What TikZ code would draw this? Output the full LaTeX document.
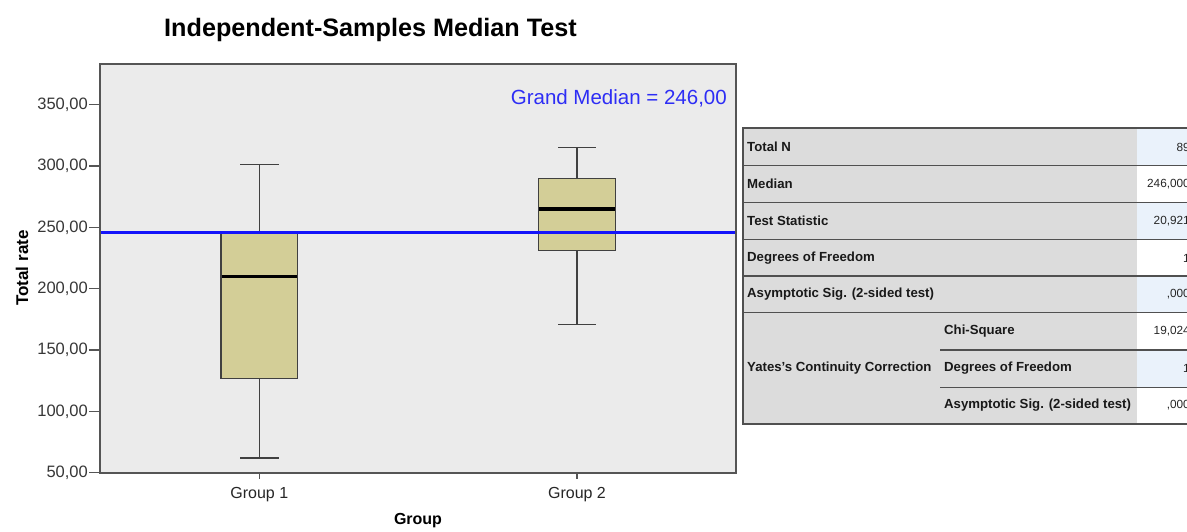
\documentclass[tikz,border=0pt]{standalone}
\usepackage{fontspec}
\setmainfont{Liberation Sans}
\definecolor{plotbg}{RGB}{235,235,235}
\definecolor{frame}{RGB}{85,85,85}
\definecolor{boxfill}{RGB}{211,206,151}
\definecolor{gmblue}{RGB}{20,20,250}
\definecolor{gmtext}{RGB}{45,45,245}
\definecolor{ticktext}{RGB}{55,55,55}
\definecolor{tabgrey}{RGB}{220,220,220}
\definecolor{tabblue}{RGB}{234,242,251}
\definecolor{tabline}{RGB}{80,80,80}
\newcommand{\fs}[1]{\fontsize{#1}{#1}\selectfont}
\tikzset{
  plotframe/.style={fill=plotbg, draw=frame, line width=1.5pt},
  boxbody/.style={fill=boxfill, draw=black!75, line width=1.2pt},
  medline/.style={black, line width=3.2pt},
  whisk/.style={draw=black!75, line width=1.2pt},
  tickline/.style={draw=frame, line width=1.3pt},
  ticklab/.style={anchor=east, inner sep=0pt, text=ticktext, font=\fs{16.5}},
  grouplab/.style={inner sep=0pt, text=black!85, font=\fs{16}},
  rowlab/.style={anchor=west, inner sep=0pt, text=black!90, font=\bfseries\fs{13.2}},
  rowval/.style={anchor=east, inner sep=0pt, text=black!85, font=\fs{11.8}},
  sepline/.style={draw=tabline, line width=1.2pt}
}
\begin{document}
\begin{tikzpicture}[x=1pt,y=-1pt]
\useasboundingbox (0,0) rectangle (1187,531);
\clip (0,0) rectangle (1187,531);
\fill[white] (0,0) rectangle (1187,531);

% title
\node[inner sep=0pt, font=\bfseries\fs{25.2}] (title) at (370.5,30) {Independent-Samples Median Test};

% plot area
\draw[plotframe] (100,64) rectangle (736,473);

% y ticks and labels
\foreach \v/\lab in {350/{350,00},300/{300,00},250/{250,00},200/{200,00},150/{150,00},100/{100,00},50/{50,00}}{
  \pgfmathsetmacro{\yy}{472.7-(\v-50)*1.2267}
  \draw[tickline] (89,\yy) -- (100,\yy);
  \node[ticklab] at (88,\yy) {\lab};
}
% x ticks
\draw[tickline] (259.3,473) -- (259.3,479);
\draw[tickline] (577,473) -- (577,479);
\node[grouplab] (g1) at (259.3,495) {Group 1};
\node[grouplab] (g2) at (577,495) {Group 2};
\node[inner sep=0pt, font=\bfseries\fs{16}] (xlab) at (418,521) {Group};
\node[inner sep=0pt, font=\bfseries\fs{17}, rotate=90] (ylab) at (22,268) {Total rate};

% box 1
\draw[whisk] (259.3,164.8) -- (259.3,232.3);
\draw[whisk] (259.3,378.2) -- (259.3,458.0);
\draw[whisk] (240,164.8) -- (279,164.8);
\draw[whisk] (240,458.0) -- (279,458.0);
\draw[boxbody] (221,232.3) rectangle (297.7,378.2);
\draw[medline] (221.6,276.4) -- (297.1,276.4);

% box 2
\draw[whisk] (577,147.6) -- (577,178.3);
\draw[whisk] (577,250.1) -- (577,324.3);
\draw[whisk] (558,147.6) -- (596,147.6);
\draw[whisk] (558,324.3) -- (596,324.3);
\draw[boxbody] (538.7,178.3) rectangle (615.3,250.1);
\draw[medline] (539.3,209.0) -- (614.7,209.0);

% grand median line
\draw[gmblue, line width=3pt] (100.8,232.3) -- (735.2,232.3);
\node[anchor=east, inner sep=0pt, text=gmtext, font=\fs{20.5}] (gm) at (727,98) {Grand Median = 246,00};

% table backgrounds
\fill[tabgrey] (743,128) rectangle (1137,424);
\foreach \ya/\yb/\c in {128/165.7/tabblue,165.7/202.3/white,202.3/239.3/tabblue,239.3/276/white,276/312.7/tabblue,312.7/350/white,350/387.3/tabblue,387.3/424/white}{
  \fill[\c] (1137,\ya) rectangle (1200,\yb);
}
% separators
\foreach \yy in {165.7,202.3,239.3,276,312.7}{
  \draw[sepline] (743,\yy) -- (1200,\yy);
}
\draw[sepline] (940,350) -- (1200,350);
\draw[sepline] (940,387.3) -- (1200,387.3);
\draw[draw=tabline, line width=1.6pt] (743,128) rectangle (1200,424);

% table labels
\node[rowlab] (r1) at (747,147) {Total N};
\node[rowlab] (r2) at (747,184) {Median};
\node[rowlab] (r3) at (747,221) {Test Statistic};
\node[rowlab] (r4) at (747,258) {Degrees of Freedom};
\node[rowlab] (r5) at (747,294.5) {Asymptotic Sig. (2-sided test)};
\node[rowlab] (r6) at (747,368.5) {Yates's Continuity Correction};
\node[rowlab] (s1) at (944,331.3) {Chi-Square};
\node[rowlab] (s2) at (944,368.6) {Degrees of Freedom};
\node[rowlab] (s3) at (944,405.6) {Asymptotic Sig. (2-sided test)};

% table values (cut off at the right edge, as in the reference)
\node[rowval] (v1) at (1190,147) {89};
\node[rowval] (v2) at (1190,184) {246,000};
\node[rowval] (v3) at (1190,221) {20,921};
\node[rowval] (v4) at (1190,258) {1};
\node[rowval] (v5) at (1190,294.5) {,000};
\node[rowval] (v6) at (1190,331.3) {19,024};
\node[rowval] (v7) at (1190,368.6) {1};
\node[rowval] (v8) at (1190,405.6) {,000};
\end{tikzpicture}
\end{document}
